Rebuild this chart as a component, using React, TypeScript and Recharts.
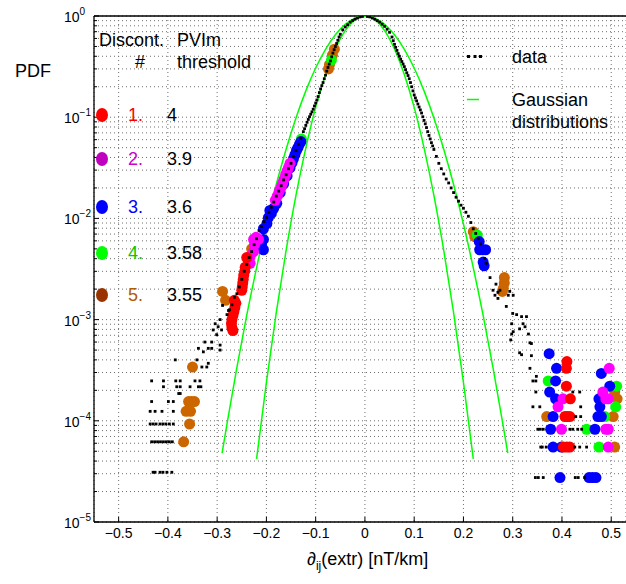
import React from "react";
import { ComposedChart, XAxis, YAxis, CartesianGrid, Scatter, Line, ReferenceLine } from "recharts";

const FONT = '"Liberation Sans", Arial, Helvetica, sans-serif';
const PLOT_LEFT = 94;
const PLOT_BOTTOM = 522;

// axis ticks
const xTicks = [-0.5, -0.4, -0.3, -0.2, -0.1, 0, 0.1, 0.2, 0.3, 0.4, 0.5];
const yTicks = [
  1e-5, 2e-5, 3e-5, 4e-5, 5e-5, 6e-5, 7e-5, 8e-5, 9e-5,
  1e-4, 2e-4, 3e-4, 4e-4, 5e-4, 6e-4, 7e-4, 8e-4, 9e-4,
  1e-3, 2e-3, 3e-3, 4e-3, 5e-3, 6e-3, 7e-3, 8e-3, 9e-3,
  1e-2, 2e-2, 3e-2, 4e-2, 5e-2, 6e-2, 7e-2, 8e-2, 9e-2,
  1e-1, 0.2, 0.3, 0.4, 0.5, 0.6, 0.7, 0.8, 0.9, 1,
];
const yMajor = [1e-5, 1e-4, 1e-3, 1e-2, 1e-1, 1];
const yExponents = ["\u22125", "\u22124", "\u22123", "\u22122", "\u22121", "0"];

// legend
const legendNums = ["1.", "2.", "3.", "4.", "5."];
const legendThresholds = ["4", "3.9", "3.6", "3.58", "3.55"];

// Gaussian fits
const gaussNarrow: [number, number][] = [
  [-0.22, 4.2e-5], [-0.2, 2.4e-4], [-0.18, 0.00117], [-0.16, 0.00483], [-0.14, 0.0169],
  [-0.12, 0.0498], [-0.1, 0.125], [-0.08, 0.264], [-0.06, 0.472], [-0.04, 0.717], [-0.02, 0.92],
  [0, 1], [0.02, 0.92], [0.04, 0.717], [0.06, 0.472], [0.08, 0.264], [0.1, 0.125], [0.12, 0.0498],
  [0.14, 0.0169], [0.16, 0.00483], [0.18, 0.00117], [0.2, 2.4e-4], [0.22, 4.2e-5],
];
const gaussWide: [number, number][] = [
  [-0.29, 4.8e-5], [-0.28, 9.3e-5], [-0.26, 3.35e-4], [-0.24, 0.0011], [-0.22, 0.00325], [-0.2, 0.0088],
  [-0.18, 0.0216], [-0.16, 0.0483], [-0.14, 0.0983], [-0.12, 0.182], [-0.1, 0.306], [-0.08, 0.469],
  [-0.06, 0.653], [-0.04, 0.827], [-0.02, 0.954], [0, 1], [0.02, 0.954], [0.04, 0.827], [0.06, 0.653],
  [0.08, 0.469], [0.1, 0.306], [0.12, 0.182], [0.14, 0.0983], [0.16, 0.0483], [0.18, 0.0216],
  [0.2, 0.0088], [0.22, 0.00325], [0.24, 0.0011], [0.26, 3.35e-4], [0.28, 9.3e-5], [0.29, 4.8e-5],
];

// empirical PDF ("data")
const dataCoreLeft: [number, number][] = [
  [-0.005, 0.99], [-0.01, 0.98], [-0.015, 0.955], [-0.02, 0.93], [-0.025, 0.9], [-0.03, 0.87],
  [-0.035, 0.82], [-0.04, 0.78], [-0.045, 0.73], [-0.05, 0.66], [-0.0525, 0.62], [-0.055, 0.575],
  [-0.0575, 0.535], [-0.06, 0.5], [-0.0625, 0.465], [-0.065, 0.43], [-0.0675, 0.395], [-0.07, 0.36],
  [-0.0725, 0.335], [-0.075, 0.31], [-0.0775, 0.285], [-0.08, 0.26], [-0.0825, 0.24], [-0.085, 0.22],
  [-0.0875, 0.205], [-0.09, 0.19], [-0.0925, 0.175], [-0.095, 0.16], [-0.0975, 0.148], [-0.1, 0.138],
  [-0.1025, 0.129], [-0.105, 0.12], [-0.1075, 0.113], [-0.11, 0.107], [-0.1125, 0.101], [-0.115, 0.095],
  [-0.1175, 0.089], [-0.12, 0.083], [-0.1225, 0.077], [-0.125, 0.072], [-0.13, 0.062], [-0.135, 0.054],
  [-0.14, 0.047], [-0.145, 0.041], [-0.15, 0.035], [-0.155, 0.031], [-0.16, 0.027], [-0.165, 0.024],
  [-0.17, 0.021], [-0.175, 0.0186], [-0.18, 0.0166], [-0.185, 0.0145], [-0.19, 0.0129], [-0.195, 0.0115],
  [-0.2, 0.0102], [-0.205, 0.0093], [-0.21, 0.0083], [-0.215, 0.0076], [-0.22, 0.0063], [-0.225, 0.0055],
  [-0.23, 0.0047], [-0.235, 0.0041], [-0.24, 0.0035], [-0.245, 0.003], [-0.25, 0.0025], [-0.255, 0.0021],
  [-0.26, 0.0018],
];
const dataCoreRight: [number, number][] = [
  [0.005, 0.99], [0.01, 0.98], [0.015, 0.955], [0.02, 0.93], [0.025, 0.9], [0.03, 0.87], [0.035, 0.83],
  [0.04, 0.79], [0.045, 0.74], [0.05, 0.69], [0.055, 0.62], [0.0575, 0.57], [0.06, 0.525], [0.0625, 0.49],
  [0.065, 0.457], [0.0675, 0.425], [0.07, 0.4], [0.0725, 0.375], [0.075, 0.355], [0.0775, 0.335],
  [0.08, 0.316], [0.0825, 0.295], [0.085, 0.275], [0.0875, 0.258], [0.09, 0.24], [0.0925, 0.22],
  [0.095, 0.2], [0.0975, 0.182], [0.1, 0.166], [0.1025, 0.155], [0.105, 0.145], [0.1075, 0.135],
  [0.11, 0.126], [0.1125, 0.118], [0.115, 0.11], [0.1175, 0.101], [0.12, 0.093], [0.1225, 0.086],
  [0.125, 0.079], [0.1275, 0.072], [0.13, 0.066], [0.1325, 0.061], [0.135, 0.056], [0.1375, 0.052],
  [0.14, 0.048], [0.145, 0.041], [0.15, 0.035], [0.155, 0.031], [0.16, 0.0275], [0.165, 0.0245],
  [0.17, 0.0224], [0.175, 0.02], [0.18, 0.018], [0.185, 0.0162], [0.19, 0.0148], [0.195, 0.0135],
  [0.2, 0.0126], [0.205, 0.0115], [0.21, 0.0105], [0.215, 0.0091], [0.22, 0.0079], [0.225, 0.0071],
  [0.23, 0.0063], [0.235, 0.0056], [0.243, 0.004], [0.246, 0.0036],
];
const dataTailLeft: [number, number][] = [
  [-0.265, 0.00166], [-0.27, 0.0014], [-0.275, 0.00125], [-0.28, 0.00112], [-0.289, 0.00138],
  [-0.277, 0.00123], [-0.294, 0.001], [-0.304, 0.00091], [-0.298, 0.00085], [-0.308, 0.00079],
  [-0.291, 0.00079], [-0.301, 0.00071], [-0.311, 0.0006], [-0.325, 0.0006], [-0.294, 0.00056],
  [-0.318, 0.00052], [-0.311, 0.00052], [-0.338, 0.00052], [-0.294, 0.0005], [-0.328, 0.00048],
  [-0.385, 0.0004], [-0.341, 0.0004], [-0.318, 0.00037], [-0.331, 0.00034], [-0.321, 0.00034],
  [-0.433, 2.48e-4], [-0.409, 2.48e-4], [-0.384, 2.48e-4], [-0.375, 2.48e-4], [-0.345, 2.48e-4], [-0.335, 2.48e-4],
  [-0.409, 2.17e-4], [-0.382, 2.17e-4], [-0.375, 2.17e-4], [-0.355, 2.17e-4], [-0.338, 2.17e-4], [-0.333, 2.17e-4],
  [-0.378, 1.86e-4], [-0.375, 1.86e-4],
  [-0.433, 1.55e-4], [-0.399, 1.55e-4], [-0.389, 1.55e-4],
  [-0.436, 1.24e-4], [-0.426, 1.24e-4], [-0.412, 1.24e-4], [-0.389, 1.24e-4],
  [-0.436, 9.3e-5], [-0.43, 9.3e-5], [-0.424, 9.3e-5], [-0.416, 9.3e-5], [-0.41, 9.3e-5], [-0.404, 9.3e-5],
  [-0.397, 9.3e-5], [-0.389, 9.3e-5],
  [-0.433, 6.2e-5], [-0.427, 6.2e-5], [-0.421, 6.2e-5], [-0.415, 6.2e-5], [-0.409, 6.2e-5], [-0.403, 6.2e-5],
  [-0.397, 6.2e-5], [-0.391, 6.2e-5],
  [-0.43, 3.1e-5], [-0.426, 3.1e-5], [-0.416, 3.1e-5], [-0.41, 3.1e-5], [-0.402, 3.1e-5], [-0.392, 3.1e-5],
];
const dataTailRight: [number, number][] = [
  [0.254, 0.0026], [0.26, 0.00195], [0.264, 0.00174], [0.266, 0.00224], [0.27, 0.00186], [0.274, 0.00195],
  [0.27, 0.00162], [0.287, 0.00135], [0.291, 0.00174], [0.294, 0.0019], [0.301, 0.00174], [0.298, 0.00091],
  [0.298, 0.00072], [0.296, 0.00063], [0.3, 0.00115], [0.308, 0.00112], [0.301, 0.00076], [0.314, 0.00081],
  [0.318, 0.00107], [0.321, 0.00091], [0.325, 0.00085], [0.328, 0.00107], [0.332, 0.00072], [0.335, 0.00059],
  [0.338, 0.00058], [0.314, 0.00047], [0.318, 0.00045], [0.338, 0.00044], [0.335, 0.00033], [0.348, 0.000275],
  [0.341, 2.475e-4], [0.347, 2.475e-4],
  [0.347, 1.925e-4], [0.422, 1.925e-4], [0.436, 1.925e-4],
  [0.341, 1.375e-4], [0.355, 1.375e-4], [0.438, 1.375e-4],
  [0.428, 1.1e-4], [0.438, 1.1e-4],
  [0.351, 8.25e-5], [0.356, 8.25e-5], [0.362, 8.25e-5], [0.416, 8.25e-5], [0.422, 8.25e-5], [0.432, 8.25e-5], [0.44, 8.25e-5],
  [0.357, 5.5e-5], [0.36, 5.5e-5], [0.368, 5.5e-5], [0.426, 5.5e-5], [0.436, 5.5e-5], [0.45, 5.5e-5],
  [0.346, 2.75e-5], [0.352, 2.75e-5], [0.362, 2.75e-5], [0.427, 2.75e-5], [0.433, 2.75e-5], [0.446, 2.75e-5],
];

// discontinuities, one list per threshold
const disc1Red: [number, number][] = [
  [-0.24, 0.0041], [-0.243, 0.0033], [-0.244, 0.003], [-0.246, 0.00275], [-0.247, 0.0025], [-0.248, 0.0023],
  [-0.249, 0.0021], [-0.25, 0.00195], [-0.265, 0.00155], [-0.262, 0.00145], [-0.264, 0.00132], [-0.266, 0.0012],
  [-0.268, 0.0011], [-0.27, 0.001], [-0.271, 0.00091], [-0.27, 0.00083], [-0.268, 0.00078],
  [0.403, 5.5e-5], [0.41, 5.5e-5], [0.416, 5.5e-5], [0.406, 1.1e-4], [0.411, 1.1e-4], [0.416, 1.1e-4],
  [0.417, 1.65e-4], [0.409, 2.2e-4], [0.409, 3.3e-4], [0.41, 3.85e-4],
];
const disc2Magenta: [number, number][] = [
  [-0.152, 0.035], [-0.155, 0.032], [-0.158, 0.0295], [-0.161, 0.027], [-0.164, 0.0245], [-0.167, 0.0224],
  [-0.17, 0.0204], [-0.174, 0.0186], [-0.178, 0.0166], [-0.182, 0.0151],
  [-0.216, 0.0062], [-0.221, 0.0065], [-0.226, 0.0062], [-0.224, 0.0055], [-0.226, 0.0047], [-0.233, 0.0042],
  [-0.233, 0.0036],
  [0.494, 5.5e-5], [0.399, 8.25e-5], [0.489, 8.25e-5], [0.494, 8.25e-5], [0.392, 1.375e-4],
  [0.402, 1.65e-4], [0.489, 1.65e-4], [0.494, 1.65e-4], [0.483, 1.925e-4], [0.496, 3.3e-4],
];
const disc3Blue: [number, number][] = [
  [-0.13, 0.0575], [-0.133, 0.054], [-0.136, 0.05], [-0.139, 0.047], [-0.142, 0.0427], [-0.145, 0.039],
  [-0.148, 0.0355], [-0.152, 0.0316], [-0.158, 0.0263], [-0.165, 0.022], [-0.172, 0.018],
  [-0.179, 0.0141], [-0.185, 0.0126], [-0.19, 0.0112], [-0.193, 0.012], [-0.196, 0.0102], [-0.199, 0.0089],
  [-0.206, 0.0079], [-0.206, 0.0062], [-0.21, 0.0055], [-0.206, 0.0049], [-0.237, 0.0039],
  [0.232, 0.0059], [0.233, 0.0049], [0.239, 0.0049], [0.245, 0.0049], [0.24, 0.0037], [0.242, 0.0034],
  [0.396, 2.75e-5], [0.455, 2.75e-5], [0.462, 2.75e-5], [0.469, 2.75e-5],
  [0.382, 5.5e-5], [0.399, 5.5e-5], [0.377, 8.25e-5], [0.467, 8.25e-5],
  [0.382, 1.1e-4], [0.473, 1.1e-4], [0.48, 1.1e-4], [0.477, 1.375e-4], [0.387, 1.65e-4], [0.475, 1.65e-4],
  [0.375, 1.925e-4], [0.497, 2.2e-4], [0.387, 2.475e-4], [0.48, 2.94e-4], [0.389, 3.3e-4], [0.374, 4.6e-4],
];
const disc4Green: [number, number][] = [
  [-0.068, 0.367], [-0.129, 0.061],
  [0.228, 0.00685], [0.475, 5.5e-5], [0.45, 8.25e-5], [0.487, 1.1e-4], [0.509, 1.375e-4],
  [0.511, 2.2e-4], [0.372, 2.475e-4],
];
const disc5Orange: [number, number][] = [
  [-0.062, 0.47], [-0.066, 0.41], [-0.072, 0.33], [-0.074, 0.3],
  [-0.23, 0.005], [-0.289, 0.0019], [-0.283, 0.00155], [-0.35, 0.00034],
  [-0.358, 1.55e-4], [-0.352, 1.55e-4], [-0.346, 1.55e-4], [-0.363, 1.24e-4], [-0.354, 1.24e-4],
  [-0.356, 9.3e-5], [-0.368, 6.2e-5],
  [0.22, 0.0074], [0.223, 0.0066], [0.283, 0.0026], [0.283, 0.0023], [0.281, 0.00204], [0.279, 0.0019],
  [0.507, 5.5e-5], [0.369, 1.1e-4], [0.504, 1.1e-4], [0.512, 1.65e-4], [0.507, 1.925e-4],
];

const toRows = (pts: [number, number][]) => pts.map(([x, y]) => ({ x, y }));

const blackDots = toRows([...dataCoreLeft, ...dataCoreRight, ...dataTailLeft, ...dataTailRight]);

const discSeries = [
  { name: "5", color: "#cc6600", rows: toRows(disc5Orange) },
  { name: "4", color: "#00ff00", rows: toRows(disc4Green) },
  { name: "3", color: "#0000ff", rows: toRows(disc3Blue) },
  { name: "2", color: "#ff00ff", rows: toRows(disc2Magenta) },
  { name: "1", color: "#ff0000", rows: toRows(disc1Red) },
];

const legendMarkerColors = ["#ff0000", "#bf00bf", "#0000ff", "#00ff00", "#993300"];
const legendTextColors = ["#ff0000", "#cc00cc", "#0000ff", "#00cc00", "#b35900"];
const legendRowY = [115, 159, 207, 253, 295];

function YTick({ y, payload }: any) {
  const i = yMajor.indexOf(payload.value);
  const major = i >= 0;
  return (
    <g>
      <line x1={PLOT_LEFT} x2={PLOT_LEFT + (major ? 5 : 3)} y1={y} y2={y} stroke="#000" />
      {major && (
        <text x={PLOT_LEFT - 30} y={y + 6} fontSize={14} fontFamily={FONT} fill="#000">
          10
          <tspan dy={-7} fontSize={10}>
            {yExponents[i]}
          </tspan>
        </text>
      )}
    </g>
  );
}

function XTick({ x, payload }: any) {
  const v = payload.value;
  const label = v < 0 ? "\u2212" + String(-v) : String(v);
  return (
    <g>
      <line x1={x} x2={x} y1={PLOT_BOTTOM} y2={PLOT_BOTTOM - 5} stroke="#000" />
      <text x={x} y={PLOT_BOTTOM + 16} textAnchor="middle" fontSize={14} fontFamily={FONT} fill="#000">
        {label}
      </text>
    </g>
  );
}

const dotShape = (props: any) => (
  <rect x={props.cx - 1.4} y={props.cy - 1.4} width={2.8} height={2.8} fill="#000" />
);

const circleShape = (color: string) => (props: any) => (
  <circle cx={props.cx} cy={props.cy} r={5.5} fill={color} />
);

export default function App() {
  return (
    <div style={{ position: "absolute", left: 0, top: 0, width: 626, height: 584, background: "#fff", overflow: "hidden" }}>
      <ComposedChart width={626} height={584} margin={{ top: 16, right: 0, bottom: 0, left: 0 }}>
        <CartesianGrid stroke="#6f6f6f" strokeDasharray="1 3" />
        <XAxis
          dataKey="x"
          type="number"
          domain={[-0.55, 0.53]}
          ticks={xTicks}
          allowDataOverflow
          interval={0}
          height={62}
          tickLine={false}
          tick={<XTick />}
          axisLine={{ stroke: "#000", strokeWidth: 1.3 }}
        />
        <YAxis
          dataKey="y"
          type="number"
          scale="log"
          domain={[1e-5, 1]}
          ticks={yTicks}
          allowDataOverflow
          interval={0}
          width={94}
          tickLine={false}
          tick={<YTick />}
          axisLine={{ stroke: "#000", strokeWidth: 1.3 }}
        />
        <ReferenceLine y={1} stroke="#000" strokeWidth={1.3} />
        <Line
          data={toRows(gaussNarrow)}
          dataKey="y"
          type="monotone"
          stroke="#00ff00"
          strokeWidth={1.5}
          dot={false}
          isAnimationActive={false}
        />
        <Line
          data={toRows(gaussWide)}
          dataKey="y"
          type="monotone"
          stroke="#00ff00"
          strokeWidth={1.5}
          dot={false}
          isAnimationActive={false}
        />
        {discSeries.map((s) => (
          <Scatter
            key={s.name}
            data={s.rows}
            dataKey="y"
            shape={circleShape(s.color)}
            isAnimationActive={false}
          />
        ))}
        <Scatter data={blackDots} dataKey="y" shape={dotShape} isAnimationActive={false} />
      </ComposedChart>

      <svg
        width={626}
        height={584}
        style={{ position: "absolute", left: 0, top: 0, pointerEvents: "none" }}
        fontFamily={FONT}
        fontSize={18}
      >
        <text x={15} y={77}>PDF</text>
        <text x={99} y={46}>Discont.</text>
        <text x={140} y={68} textAnchor="middle">#</text>
        <text x={177} y={46}>PVIm</text>
        <text x={177} y={68}>threshold</text>
        {legendNums.map((n, i) => (
          <g key={n}>
            <ellipse cx={102} cy={legendRowY[i]} rx={6} ry={7} fill={legendMarkerColors[i]} />
            <text x={128} y={legendRowY[i] + 6} fill={legendTextColors[i]}>{n}</text>
            <text x={167} y={legendRowY[i] + 6} fill="#000">{legendThresholds[i]}</text>
          </g>
        ))}
        <rect x={467} y={55} width={3} height={3} fill="#000" />
        <rect x={473.5} y={55} width={3} height={3} fill="#000" />
        <rect x={479} y={55} width={3} height={3} fill="#000" />
        <text x={512} y={63}>data</text>
        <line x1={467} x2={479} y1={99.5} y2={99.5} stroke="#00ff00" strokeWidth={1.5} />
        <text x={512} y={106}>Gaussian</text>
        <text x={512} y={128}>distributions</text>
        <text x={307} y={565}>
          ∂<tspan dy={5} fontSize={12}>ij</tspan>
          <tspan dy={-5}>(extr) [nT/km]</tspan>
        </text>
      </svg>
    </div>
  );
}
